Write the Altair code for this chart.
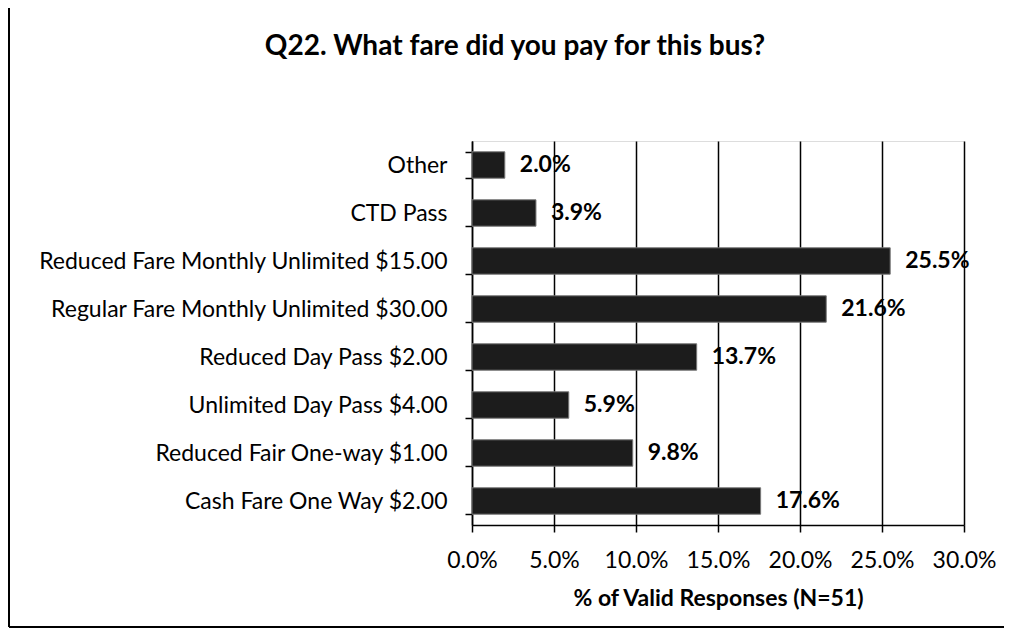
import altair as alt
import pandas as pd

categories = [
    "Other",
    "CTD Pass",
    "Reduced Fare Monthly Unlimited $15.00",
    "Regular Fare Monthly Unlimited $30.00",
    "Reduced Day Pass $2.00",
    "Unlimited Day Pass $4.00",
    "Reduced Fair One-way $1.00",
    "Cash Fare One Way $2.00",
]
percents = [2.0, 3.9, 25.5, 21.6, 13.7, 5.9, 9.8, 17.6]
x_ticks = [0, 5, 10, 15, 20, 25, 30]

title_text = "Q22. What fare did you pay for this bus?"
x_title = "% of Valid Responses (N=51)"

FONT = "Lato"

df = pd.DataFrame({"fare": categories, "pct": percents})

base = alt.Chart(df).transform_calculate(
    label="format(datum.pct, '.1f') + '%'"
)

y_enc = alt.Y(
    "fare:N",
    sort=categories,
    title=None,
    scale=alt.Scale(paddingInner=0.45, paddingOuter=0.225),
    axis=alt.Axis(
        tickBand="extent",
        tickSize=7,
        tickColor="black",
        tickWidth=1.5,
        domainColor="black",
        domainWidth=1.5,
        labelFont=FONT,
        labelFontSize=23,
        labelColor="black",
        labelPadding=18,
        labelLimit=600,
        grid=False,
    ),
)

x_enc = alt.X(
    "pct:Q",
    scale=alt.Scale(domain=[0, 30], nice=False),
    title=x_title,
    axis=alt.Axis(
        values=x_ticks,
        labelExpr="format(datum.value, '.1f') + '%'",
        grid=True,
        gridColor="black",
        gridWidth=1.5,
        gridOpacity=1,
        tickSize=7,
        tickColor="black",
        tickWidth=1.5,
        domainColor="black",
        domainWidth=1.5,
        labelFont=FONT,
        labelFontSize=23,
        labelColor="black",
        labelPadding=17,
        labelFlush=False,
        titleFont=FONT,
        titleFontSize=23,
        titleFontWeight="bold",
        titleColor="black",
        titlePadding=15,
    ),
)

bars = base.mark_bar(color="#1c1c1c", stroke="#777777", strokeWidth=1).encode(
    x=x_enc, y=y_enc
)

labels = base.mark_text(
    align="left",
    baseline="middle",
    dx=15,
    font=FONT,
    fontSize=23,
    fontWeight="bold",
    color="black",
).encode(x="pct:Q", y=alt.Y("fare:N", sort=categories), text="label:N")

one = pd.DataFrame({"k": [0]})

frame_left = alt.Chart(one).mark_rule(color="black", strokeWidth=2).encode(
    x=alt.value(-463), y=alt.value(-134), y2=alt.value(486)
)
frame_top = alt.Chart(one).mark_rule(color="black", strokeWidth=2).encode(
    x=alt.value(-463), x2=alt.value(560), y=alt.value(-134)
)
frame_bottom = alt.Chart(one).mark_rule(color="black", strokeWidth=2).encode(
    x=alt.value(-463), x2=alt.value(560), y=alt.value(486)
)

title = alt.Chart(pd.DataFrame({"t": [title_text]})).mark_text(
    align="center",
    baseline="middle",
    font=FONT,
    fontSize=28,
    fontWeight="bold",
    color="black",
).encode(x=alt.value(43), y=alt.value(-94), text="t:N")

chart = (
    alt.layer(frame_left, frame_top, frame_bottom, title, bars, labels)
    .properties(
        width=492,
        height=384,
        autosize=alt.AutoSizeParams(type="none"),
        padding={"left": 464, "top": 133, "right": 40, "bottom": 103},
    )
    .configure_view(stroke=None)
    .configure(background="white")
)

chart.save("out.html", embed_options={"renderer": "svg", "actions": False})
